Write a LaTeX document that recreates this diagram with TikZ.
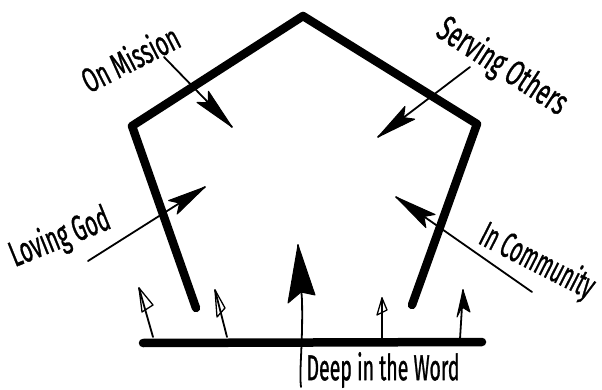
\documentclass[tikz,border=0pt]{standalone}
\usepackage{fontspec}
\setmainfont{Fira Sans}[FakeBold=1.2]
\usetikzlibrary{calc}
\tikzset{
  heavyline/.style={line width=8.5pt, line cap=round, line join=round},
  thinline/.style={line width=1.8pt, line cap=round},
  lbl/.style={inner sep=0pt},
  headfill/.style={fill=black, draw=black, line width=1pt, line join=round},
  headopen/.style={draw=black, line width=1.3pt, line join=round},
}
\begin{document}
\begin{tikzpicture}[x=1pt,y=-1pt]
\useasboundingbox (0,0) rectangle (602,390);
% pentagon
\coordinate (apex) at (303,16);
\coordinate (lc) at (132,126);
\coordinate (rc) at (477,124);
\coordinate (lb) at (196,308);
\coordinate (rb) at (412,305);
\draw[heavyline] (lb) -- (lc) -- (apex) -- (rc) -- (rb);
% base line
\coordinate (bl) at (143,343);
\coordinate (br) at (482,342);
\draw[heavyline] (bl) -- (br);

% labels
\node[lbl, rotate=27] (onmission) at (130,58) {\resizebox{105pt}{27pt}{On Mission}};
\node[lbl, rotate=-33] (serving) at (502,67) {\resizebox{148pt}{28pt}{Serving Others}};
\node[lbl, rotate=22] (loving) at (60,238) {\resizebox{105pt}{28pt}{Loving God}};
\node[lbl, rotate=-27] (community) at (537,262) {\resizebox{124pt}{28pt}{In Community}};
\node[lbl] (deep) at (383,370) {\resizebox{153pt}{28pt}{Deep in the Word}};

% On Mission arrow
\coordinate (om-s) at (164,57);
\coordinate (om-t) at (232,127);
\draw[thinline] (om-s) -- (om-t);
\filldraw[headfill] (om-t) -- ($(om-t)!42pt!(om-s)!8pt!90:(om-t)$) -- ($(om-t)!34pt!(om-s)$) -- ($(om-t)!42pt!(om-s)!8pt!-90:(om-t)$) -- cycle;

% Serving Others arrow
\coordinate (so-s) at (470,67);
\coordinate (so-t) at (378,137);
\draw[thinline] (so-s) -- (so-t);
\filldraw[headfill] (so-t) -- ($(so-t)!40pt!(so-s)!8pt!90:(so-t)$) -- ($(so-t)!32pt!(so-s)$) -- ($(so-t)!40pt!(so-s)!8pt!-90:(so-t)$) -- cycle;

% Loving God arrow
\coordinate (lg-s) at (88,261);
\coordinate (lg-t) at (205,187);
\draw[thinline] (lg-s) -- (lg-t);
\filldraw[headfill] (lg-t) -- ($(lg-t)!38pt!(lg-s)!8pt!90:(lg-t)$) -- ($(lg-t)!30pt!(lg-s)$) -- ($(lg-t)!38pt!(lg-s)!8pt!-90:(lg-t)$) -- cycle;

% In Community arrow
\coordinate (ic-s) at (532,292);
\coordinate (ic-t) at (396,197);
\draw[thinline] (ic-s) -- (ic-t);
\filldraw[headfill] (ic-t) -- ($(ic-t)!42pt!(ic-s)!8pt!90:(ic-t)$) -- ($(ic-t)!34pt!(ic-s)$) -- ($(ic-t)!42pt!(ic-s)!8pt!-90:(ic-t)$) -- cycle;

% central arrow
\coordinate (ca-b) at (301,387);
\coordinate (ca-m) at (302,300);
\coordinate (ca-t) at (298,245);
\draw[thinline] (ca-b) .. controls (299,370) and (303,345) .. (ca-m) -- (ca-t);
\filldraw[headfill] (ca-t) -- (288,303) -- (301,292) -- (315,295) -- cycle;

% small arrows
\coordinate (a1-b) at (153,337); \coordinate (a1-t) at (139,288);
\draw[thinline] (a1-b) -- (a1-t);
\draw[headopen] (a1-t) -- (153,305) -- (142,312) -- cycle;

\coordinate (a2-b) at (227,337); \coordinate (a2-t) at (215,290);
\draw[thinline] (a2-b) -- (a2-t);
\draw[headopen] (a2-t) -- (225,308) -- (217,317) -- cycle;

\coordinate (a3-b) at (382,339); \coordinate (a3-t) at (382,298);
\draw[thinline] (a3-b) -- (a3-t);
\draw[headopen] (a3-t) -- (387,310) -- (377,315) -- cycle;

\coordinate (a4-b) at (460,339); \coordinate (a4-t) at (463,290);
\draw[thinline] (a4-b) -- (a4-t);
\filldraw[headfill] (a4-t) -- (470,312) -- (462,307) -- (457,317) -- cycle;
\end{tikzpicture}
\end{document}
